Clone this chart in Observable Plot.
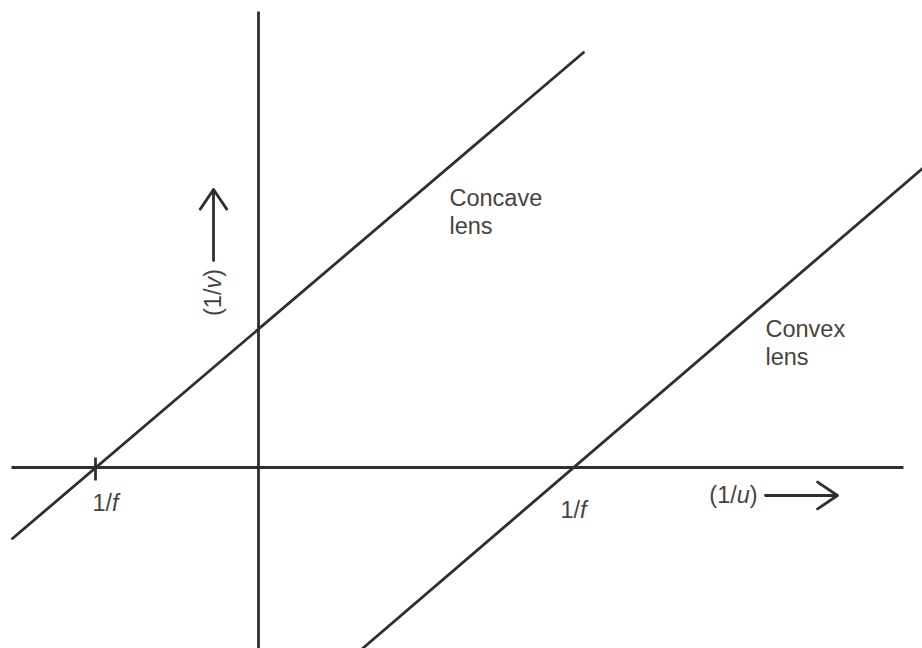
<!DOCTYPE html>
<html>
<head>
<meta charset="utf-8">
<script src="https://cdn.jsdelivr.net/npm/d3@7"></script>
<script src="https://cdn.jsdelivr.net/npm/@observablehq/plot@0.6"></script>
<style>
  html, body { margin: 0; padding: 0; background: #fff; }
  #chart svg { display: block; }
</style>
</head>
<body>
<div id="chart"></div>
<script>
// Axes (data units; origin at the crossing of the axes)
const axes = [
  {x1: -2.47, y1: 0, x2: 6.45, y2: 0},
  {x1: 0, y1: -1.81, x2: 0, y2: 4.56}
];
// Graph lines 1/v vs 1/u
const concaveLine = [{x: -2.46, y: -0.71}, {x: 3.25, y: 4.15}];
const convexLine = [{x: 1.04, y: -1.81}, {x: 6.64, y: 2.99}];
// Tick at the concave-lens intercept
const ticks = [{x: -1.63, y1: 0.10, y2: -0.13}];
// Labels
const interceptLabels = [
  {x: -1.53, y: -0.36, text: "1/f"},
  {x: 3.15, y: -0.43, text: "1/f"}
];
const lensLabels = [
  {x: 1.91, y: 2.81, text: "Concave\nlens"},
  {x: 5.07, y: 1.50, text: "Convex\nlens"}
];
const xAxisLabel = [{x: 4.75, y: -0.28, text: "(1/u)"}];
const yAxisLabel = [{x: -0.45, y: 1.75, text: "(1/v)"}];
const axisArrows = [
  {x1: 5.07, y1: -0.28, x2: 5.79, y2: -0.28},
  {x1: -0.45, y1: 2.07, x2: -0.45, y2: 2.78}
];

const ink = "#2f2f2f";
const textInk = "#444";
const font = "Liberation Sans, Arial, Helvetica, sans-serif";
const fs = 23.5;

const chart = Plot.plot({
  width: 922,
  height: 648,
  margin: 0,
  x: {domain: [-2.58, 6.64], axis: null},
  y: {domain: [-1.81, 4.67], axis: null},
  style: {fontFamily: font, background: "#fff"},
  marks: [
    Plot.link(axes, {x1: "x1", y1: "y1", x2: "x2", y2: "y2", stroke: ink, strokeWidth: 2.8}),
    Plot.line(concaveLine, {x: "x", y: "y", stroke: ink, strokeWidth: 2.8}),
    Plot.line(convexLine, {x: "x", y: "y", stroke: ink, strokeWidth: 2.8}),
    Plot.link(ticks, {x1: "x", x2: "x", y1: "y1", y2: "y2", stroke: ink, strokeWidth: 2.8}),
    Plot.arrow(axisArrows, {x1: "x1", y1: "y1", x2: "x2", y2: "y2", stroke: ink, strokeWidth: 2.8, headLength: 15, headAngle: 68}),
    Plot.text(interceptLabels, {x: "x", y: "y", text: "text", fontSize: fs, fill: textInk, textAnchor: "middle"}),
    Plot.text(lensLabels, {x: "x", y: "y", text: "text", fontSize: fs, fill: textInk, textAnchor: "start", lineAnchor: "top", lineHeight: 1.19}),
    Plot.text(xAxisLabel, {x: "x", y: "y", text: "text", fontSize: fs, fill: textInk, textAnchor: "middle"}),
    Plot.text(yAxisLabel, {x: "x", y: "y", text: "text", fontSize: fs, fill: textInk, textAnchor: "middle", rotate: -90})
  ]
});

// Italicise the variable letters (f, u, v) inside single-line labels
d3.select(chart).selectAll("text").each(function() {
  const el = this;
  if (el.querySelector("tspan")) return;
  const s = el.textContent;
  const m = s.match(/^(.*\/)([fuv])(\)?)$/);
  if (!m) return;
  el.textContent = "";
  const ns = "http://www.w3.org/2000/svg";
  const a = document.createElementNS(ns, "tspan"); a.textContent = m[1];
  const b = document.createElementNS(ns, "tspan"); b.textContent = m[2]; b.setAttribute("font-style", "italic");
  el.appendChild(a); el.appendChild(b);
  if (m[3]) { const c = document.createElementNS(ns, "tspan"); c.textContent = m[3]; el.appendChild(c); }
});

document.getElementById("chart").appendChild(chart);
</script>
</body>
</html>
